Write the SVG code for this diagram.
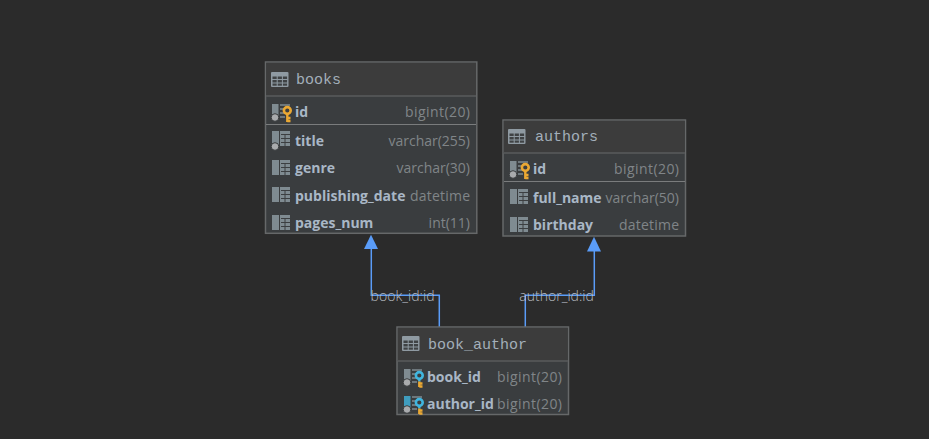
<svg xmlns="http://www.w3.org/2000/svg" width="929" height="439" viewBox="0 0 929 439">
<style>
.box{fill:#3a3d3f;stroke:#666869;stroke-width:1.500}
.head{fill:#3c3c3c}
.sep{stroke:#515354;stroke-width:2}
.div{stroke:#7a7c7d;stroke-width:1}
.title{font-family:"Liberation Mono",monospace;font-size:15px;fill:#a3afba}
.name{font-family:"Open Sans","Noto Sans",sans-serif;font-size:14px;font-weight:700;fill:#a9b7c6}
.type{font-family:"Open Sans","Noto Sans",sans-serif;font-size:14px;fill:#808588;text-anchor:end}
.lbl{font-family:"Open Sans","Noto Sans",sans-serif;font-size:14px;font-weight:300;fill:#b8bdc2}
.conn{fill:none;stroke:#5a9cf8;stroke-width:1.500}
.arr{fill:#5a9cf8}
</style>
<defs>
<g id="tbl"><rect x="0" y="0" width="17.500" height="15" fill="#8f9aa2" rx="1"/><g fill="#3f4244"><rect x="1.500" y="4.500" width="4.200" height="2.500"/><rect x="6.700" y="4.500" width="4.200" height="2.500"/><rect x="11.900" y="4.500" width="4.200" height="2.500"/><rect x="1.500" y="8" width="4.200" height="2.500"/><rect x="6.700" y="8" width="4.200" height="2.500"/><rect x="11.900" y="8" width="4.200" height="2.500"/><rect x="1.500" y="11.500" width="4.200" height="2.200"/><rect x="6.700" y="11.500" width="4.200" height="2.200"/><rect x="11.900" y="11.500" width="4.200" height="2.200"/></g></g>
<g id="col"><rect x="0" y="0" width="7" height="15" fill="#7f8b91"/><rect x="8" y="0" width="10" height="15" fill="#7f8b91"/><path d="M9 3.500H18M9 7.500H18M9 11.500H18M13 3.500V15" fill="none" stroke="#3c3f41" stroke-width="1"/></g>
<g id="dot"><circle cx="3" cy="13.500" r="3.800" fill="#a9abad" stroke="#3a3d3f" stroke-width="1"/></g>
<g id="keyY"><circle cx="15.300" cy="6.500" r="3.400" fill="#3a3d3f" stroke="#eaa833" stroke-width="2.600"/><path d="M15.300 9.500V18M15.300 14H18.500M15.300 17H18.500" fill="none" stroke="#eaa833" stroke-width="2.400"/></g>
<g id="keyB"><circle cx="15.300" cy="6.500" r="3.400" fill="#3a3d3f" stroke="#40b6e0" stroke-width="2.600"/><path d="M15.300 9.500V12.500" fill="none" stroke="#40b6e0" stroke-width="2.400"/><path d="M15.300 12.500V18M15.300 14.500H18.500M15.300 17.500H18.500" fill="none" stroke="#eaa833" stroke-width="2.400"/></g>
<g id="stripes" fill="#7f8b91" opacity=".75"><rect x="8" y="0" width="10" height="2"/><rect x="8" y="4" width="5" height="2"/><rect x="8" y="8" width="5" height="2"/><rect x="8" y="12" width="5" height="2"/></g>
<g id="pkcol"><rect x="0" y="0" width="6.500" height="12" fill="#7f8b91"/><use href="#stripes"/></g>
</defs>
<rect width="929" height="439" fill="#2b2b2b"/>

<g id="connectors">
<path class="conn" d="M371.300 248V295.300H439.300V327"/>
<path class="conn" d="M594.300 250V295.300H525.300V327"/>
<path class="arr" d="M371 234.700L378 249H364Z"/>
<path class="arr" d="M594 236.700L601 251.500H587Z"/>
<text class="lbl" x="370.500" y="301" textLength="64">book_id:id</text>
<text class="lbl" x="519.300" y="301" textLength="74.500">author_id:id</text>
</g>

<g id="books">
<rect class="box" x="265.500" y="62" width="211.300" height="171.300"/>
<rect class="head" x="266.200" y="62.800" width="209.800" height="33.200"/>
<line class="sep" x1="266" y1="96" x2="476" y2="96"/>
<line class="div" x1="266" y1="124.500" x2="476" y2="124.500"/>
<use href="#tbl" x="271" y="72"/>
<text class="title" x="296" y="84">books</text>
<use href="#pkcol" x="272" y="104"/><use href="#dot" x="272" y="104"/><use href="#keyY" x="272" y="104"/>
<text class="name" x="295" y="117">id</text><text class="type" x="470" y="117" textLength="65">bigint(20)</text>
<use href="#col" x="272" y="131"/><use href="#dot" x="272" y="133"/>
<text class="name" x="295" y="146">title</text><text class="type" x="470" y="146">varchar(255)</text>
<use href="#col" x="272" y="160"/>
<text class="name" x="295" y="173">genre</text><text class="type" x="470" y="173">varchar(30)</text>
<use href="#col" x="272" y="187"/>
<text class="name" x="295" y="201">publishing_date</text><text class="type" x="470" y="201" textLength="60">datetime</text>
<use href="#col" x="272" y="215"/>
<text class="name" x="295" y="228">pages_num</text><text class="type" x="470" y="228">int(11)</text>
</g>

<g id="authors">
<rect class="box" x="503" y="120" width="182.500" height="116"/>
<rect class="head" x="503.800" y="120.800" width="181" height="32.200"/>
<line class="sep" x1="504" y1="153" x2="685" y2="153"/>
<line class="div" x1="504" y1="181.500" x2="685" y2="181.500"/>
<use href="#tbl" x="508" y="129"/>
<text class="title" x="535" y="141">authors</text>
<use href="#pkcol" x="510" y="161"/><use href="#dot" x="510" y="161"/><use href="#keyY" x="510" y="161"/>
<text class="name" x="533" y="174">id</text><text class="type" x="679" y="174" textLength="65">bigint(20)</text>
<use href="#col" x="510" y="189"/>
<text class="name" x="533" y="203">full_name</text><text class="type" x="679" y="203">varchar(50)</text>
<use href="#col" x="510" y="217"/>
<text class="name" x="533" y="230">birthday</text><text class="type" x="679" y="230" textLength="60">datetime</text>
</g>

<g id="book_author">
<rect class="box" x="397" y="327" width="171.500" height="87.500"/>
<rect class="head" x="397.800" y="327.800" width="170" height="33.200"/>
<line class="sep" x1="398" y1="361" x2="568" y2="361"/>
<use href="#tbl" x="402" y="336"/>
<text class="title" x="428" y="349">book_author</text>
<use href="#pkcol" x="404" y="369"/><use href="#dot" x="404" y="369"/><use href="#keyB" x="404" y="369"/>
<text class="name" x="427" y="382">book_id</text><text class="type" x="562" y="382" textLength="65">bigint(20)</text>
<rect x="404" y="396" width="6.500" height="12" fill="#3f9dbf"/><use href="#stripes" x="404" y="396"/><use href="#dot" x="404" y="396"/><use href="#keyB" x="404" y="396"/>
<text class="name" x="427" y="409">author_id</text><text class="type" x="562" y="409" textLength="65">bigint(20)</text>
</g>
</svg>
